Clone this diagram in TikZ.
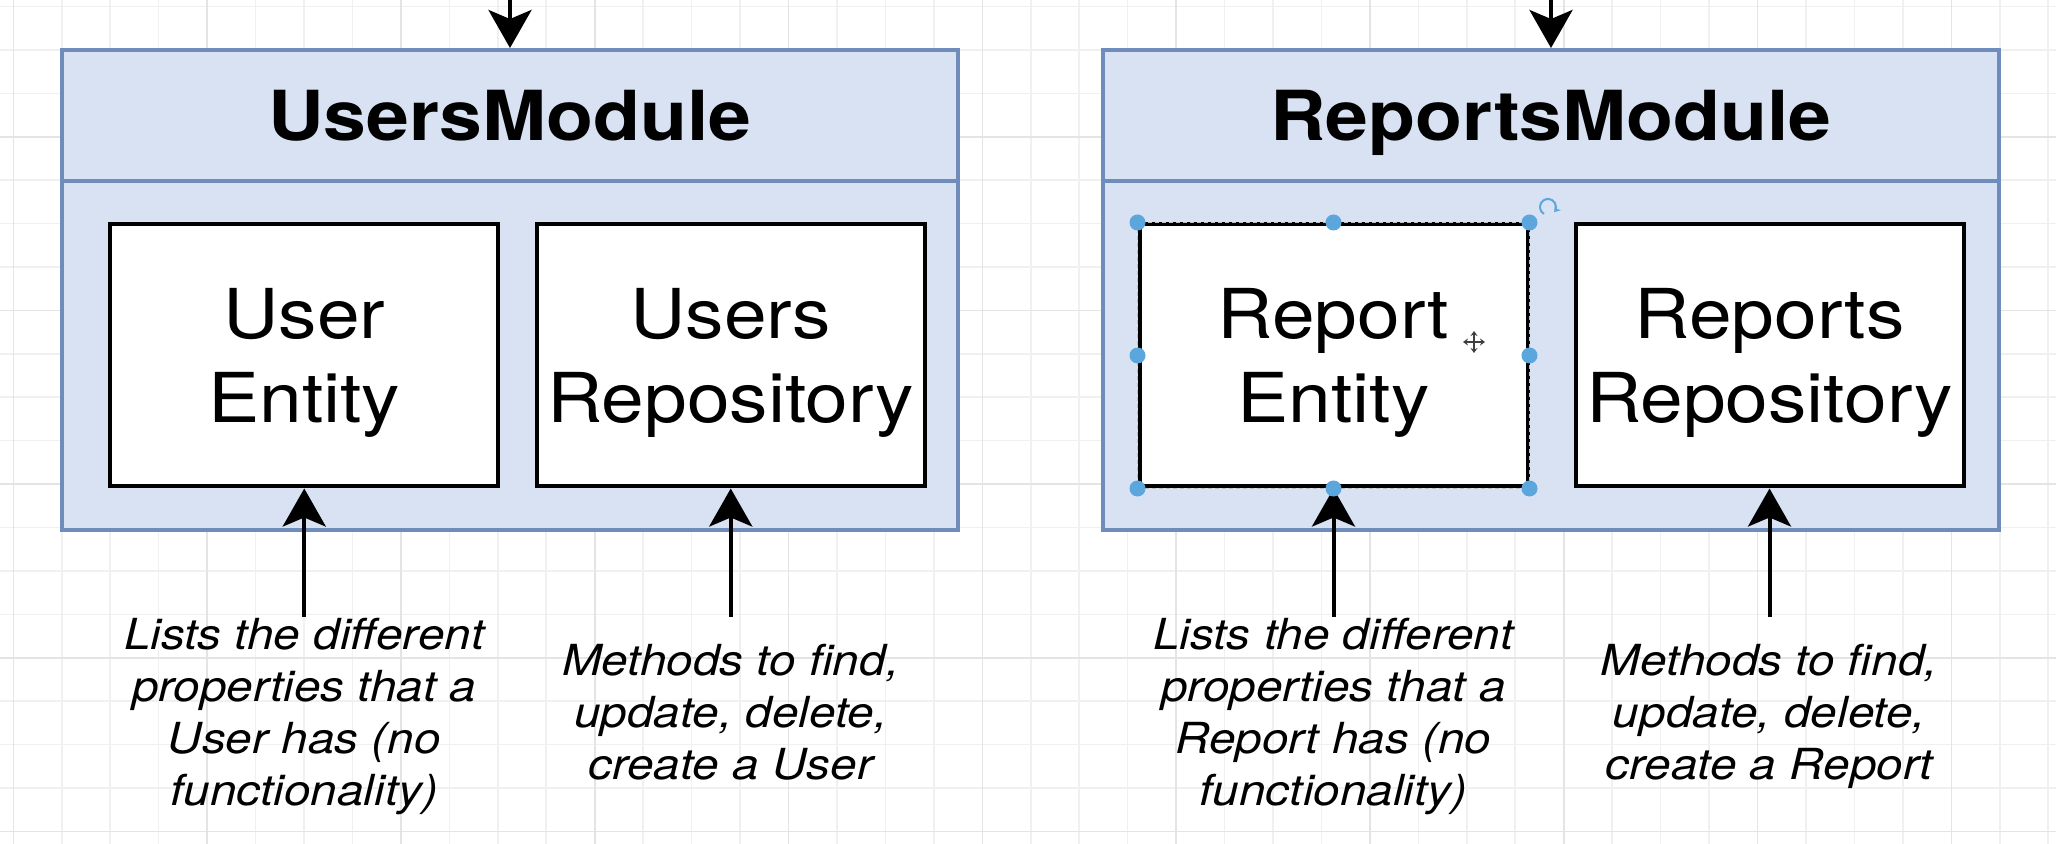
\documentclass[tikz,border=0pt]{standalone}
\usepackage{fontspec}
\setmainfont{TeX Gyre Heros}[FakeStretch=1.115]
\usetikzlibrary{positioning}
\usetikzlibrary{arrows.meta}

\definecolor{modfill}{RGB}{216,226,243}
\definecolor{modline}{RGB}{112,140,186}
\definecolor{gridminor}{RGB}{240,240,240}
\definecolor{gridmajor}{RGB}{228,228,228}
\definecolor{handle}{RGB}{92,166,222}

\begin{document}
\begin{tikzpicture}[x=0.5pt,y=-0.5pt,
  modhead/.style={draw=modline,fill=modfill,line width=2pt,minimum width=448pt,minimum height=65.75pt,inner sep=0pt,font=\bfseries\fontsize{34.5}{40}\selectfont,text height=24.8pt,text depth=0pt},
  modbody/.style={draw=modline,fill=modfill,line width=2pt,minimum width=448pt,minimum height=174.25pt,inner sep=0pt},
  part/.style={draw,fill=white,line width=2pt,minimum width=194pt,minimum height=131pt,inner sep=0pt,align=center,font=\fontsize{34.4}{42}\selectfont,text depth=0pt},
  note/.style={minimum height=95pt,inner sep=0pt,align=center,font=\itshape\fontsize{21.4}{25.9}\selectfont,text depth=0pt},
  arr/.style={line width=2pt,-{Stealth[length=19pt,width=21.5pt,inset=4.5pt]}},
  knob/.style={circle,fill=handle,minimum size=8pt,inner sep=0pt}]

  \fill[white] (0,0) rectangle (2056,844);
  \useasboundingbox (0,0) rectangle (2056,844);
  \foreach \k in {0,...,42}
    \draw[gridminor,line width=0.8pt] ({13.3+48.45*\k},0) -- ({13.3+48.45*\k},844);
  \foreach \k in {0,...,19}
    \draw[gridminor,line width=0.8pt] (0,{6.7+43.4*\k}) -- (2056,{6.7+43.4*\k});
  \foreach \k in {0,4,...,40}
    \draw[gridmajor,line width=0.8pt] ({13.3+48.45*\k},0) -- ({13.3+48.45*\k},844);
  \foreach \k in {3,7,...,19}
    \draw[gridmajor,line width=0.8pt] (0,{6.7+43.4*\k}) -- (2056,{6.7+43.4*\k});

  \node[modhead] (usershead) at (510,115.75) {UsersModule};
  \node[modbody] (usersbody) at (510,355.75) {};
  \node[modhead] (reportshead) at (1551,115.75) {ReportsModule};
  \node[modbody] (reportsbody) at (1551,355.75) {};

  \node[part] (userent) at (304.25,355.5) {User\\Entity};
  \node[part] (usersrepo) at (730.75,355.5) {Users\\Repository};
  \node[part] (reportent) at (1333.5,355.5) {Report\\Entity};
  \node[part] (reportsrepo) at (1769.5,355.5) {Reports\\Repository};

  \node[note] (usersnote) at (304.25,712) {Lists the different\\properties that a\\User has (no\\functionality)};
  \node[note] (usersreponote) at (730.75,712) {Methods to find,\\update, delete,\\create a User};
  \node[note] (reportnote) at (1333.5,712) {Lists the different\\properties that a\\Report has (no\\functionality)};
  \node[note] (reportsreponote) at (1769.5,712) {Methods to find,\\update, delete,\\create a Report};

  \coordinate (usersin) at (510,0);
  \coordinate (reportsin) at (1551,0);
  \draw[arr] (usersin) -- (usershead);
  \draw[arr] (reportsin) -- (reportshead);
  \draw[arr] (usersnote) -- (userent);
  \draw[arr] (usersreponote) -- (usersrepo);
  \draw[arr] (reportnote) -- (reportent);
  \draw[arr] (reportsreponote) -- (reportsrepo);

  \draw[gray!50,line width=0.9pt,dash pattern=on 2pt off 1.5pt] (reportent.north west) rectangle (reportent.south east);
  \foreach \a [count=\i] in {north west,north,north east,west,east,south west,south,south east}
    \node[knob] (knob\i) at (reportent.\a) {};
  \draw[handle,line width=1pt,-{Stealth[length=3pt,width=4pt]}] ([shift={(120:8)}]1548,207) arc (120:400:8);
  \draw[black!75,line width=0.8pt,{Stealth[length=2.5pt,width=3.5pt]}-{Stealth[length=2.5pt,width=3.5pt]}] (1463,342) -- (1485,342);
  \draw[black!75,line width=0.8pt,{Stealth[length=2.5pt,width=3.5pt]}-{Stealth[length=2.5pt,width=3.5pt]}] (1474,331) -- (1474,353);
\end{tikzpicture}
\end{document}
